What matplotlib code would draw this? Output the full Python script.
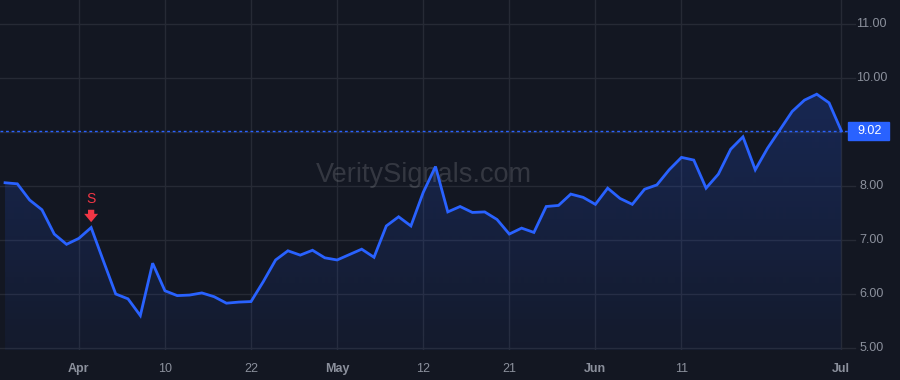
import numpy as np
import matplotlib.pyplot as plt
from matplotlib.patches import Rectangle

# closing prices, one per trading session
prices = [8.06, 8.04, 7.74, 7.56, 7.11, 6.92, 7.03, 7.23, 6.61, 6.00,
          5.91, 5.60, 6.57, 6.06, 5.97, 5.98, 6.02, 5.95, 5.83, 5.85,
          5.86, 6.23, 6.63, 6.80, 6.72, 6.81, 6.67, 6.63, 6.73, 6.83,
          6.68, 7.26, 7.43, 7.26, 7.88, 8.36, 7.52, 7.62, 7.51, 7.52,
          7.38, 7.11, 7.22, 7.14, 7.62, 7.64, 7.85, 7.79, 7.66, 7.96,
          7.77, 7.66, 7.94, 8.02, 8.30, 8.53, 8.48, 7.96, 8.22, 8.68,
          8.91, 8.30, 8.70, 9.04, 9.38, 9.59, 9.70, 9.54, 9.02]
tick_idx = [6, 13, 20, 27, 34, 41, 48, 55, 68]
tick_labels = ['Apr', '10', '22', 'May', '12', '21', 'Jun', '11', 'Jul']
month_labels = ['Apr', 'May', 'Jun', 'Jul']
y_ticks = [5, 6, 7, 8, 9, 10, 11]
signal_idx = 7
signal_text = 'S'
last_price = prices[-1]
watermark = 'VeritySignals.com'

bg = '#131722'
grid_c = '#262a35'
line_c = '#2962ff'
txt_c = '#8b909c'
red = '#f23645'

plt.rcParams['font.family'] = ['Liberation Sans', 'DejaVu Sans']

fig = plt.figure(figsize=(9, 3.8), dpi=100, facecolor=bg)
ax = fig.add_axes([0, 30/380, 848/900, 350/380])
ax.set_facecolor(bg)

x = np.arange(len(prices))
y = np.array(prices)
ymin, ymax = 4.963, 11.444
ax.set_xlim(-0.41, 68.54)
ax.set_ylim(ymin, ymax)

# grid
for v in y_ticks:
    ax.axhline(v, color=grid_c, lw=1, zorder=0)
for i in tick_idx:
    ax.axvline(i, color=grid_c, lw=1, zorder=0)

# gradient fill under the line
poly = ax.fill_between(x, y, ymin, color='none', lw=0)
grad = np.linspace(0, 1, 256).reshape(-1, 1)
cmap_img = np.zeros((256, 1, 4))
cmap_img[:, :, 0] = 0x29 / 255
cmap_img[:, :, 1] = 0x62 / 255
cmap_img[:, :, 2] = 1.0
cmap_img[:, :, 3] = 0.05 + 0.17 * grad
im = ax.imshow(cmap_img, aspect='auto', origin='lower',
               extent=[x[0], x[-1], ymin, y.max()], zorder=1)
im.set_clip_path(poly.get_paths()[0], transform=ax.transData)

ax.plot(x, y, color=line_c, lw=2, zorder=3, solid_joinstyle='miter')

# last price line
ax.axhline(last_price, color=line_c, lw=1, ls=(0, (2, 2)), zorder=2)

# signal marker
ax.annotate('', xy=(signal_idx, y[signal_idx] + 0.1),
            xytext=(signal_idx, y[signal_idx] + 0.33),
            arrowprops=dict(arrowstyle='simple,head_width=1.0,head_length=0.6,tail_width=0.45',
                            color=red, lw=0, shrinkA=0, shrinkB=0), zorder=4)
ax.text(signal_idx, y[signal_idx] + 0.4, signal_text, color=red, fontsize=10,
        ha='center', va='bottom', zorder=4)

ax.text(0.5, 0.5, watermark, transform=ax.transAxes, fontsize=19.5,
        color='#ffffff', alpha=0.14, ha='center', va='center', zorder=2)

for s in ax.spines.values():
    s.set_visible(False)
ax.set_xticks([])
ax.set_yticks([])

# x labels
for i, lab in zip(tick_idx, tick_labels):
    ax.text(i, -0.055, lab, transform=ax.get_xaxis_transform(), ha='center',
            va='center', fontsize=9, color=txt_c,
            fontweight='bold' if lab in month_labels else 'normal')

# y labels on the right
for v in y_ticks:
    ax.text(1.028, v, '%.2f' % v, transform=ax.get_yaxis_transform(), ha='center',
            va='center', fontsize=9, color=txt_c, clip_on=False)
    ax.plot([1.0, 1.008], [v, v], transform=ax.get_yaxis_transform(),
            color=grid_c, lw=1, clip_on=False)

# last price label
ax.add_patch(Rectangle((1.0, last_price - 0.16), 0.048, 0.32,
                       transform=ax.get_yaxis_transform(), color=line_c,
                       clip_on=False, zorder=5))
ax.text(1.026, last_price, '%.2f' % last_price, transform=ax.get_yaxis_transform(),
        ha='center', va='center', fontsize=9, color='white', zorder=6)

fig.savefig('out.png', dpi=100, facecolor=bg)
